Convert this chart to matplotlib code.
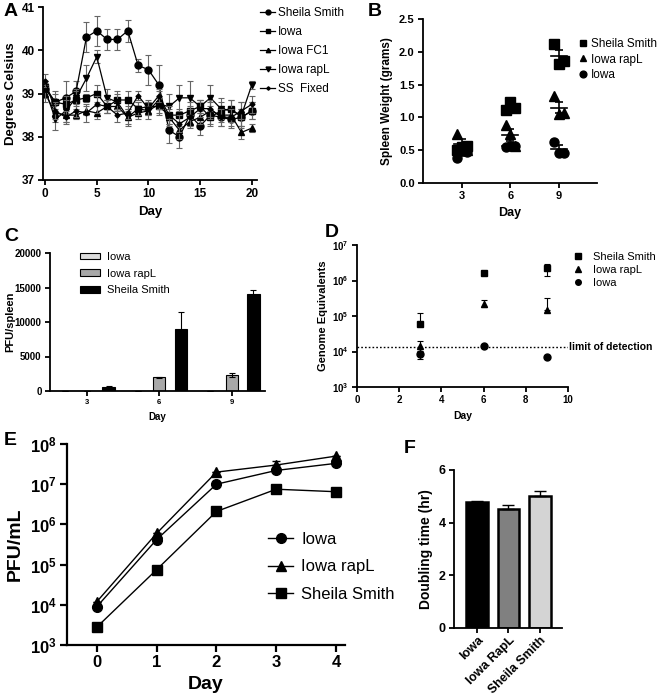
import numpy as np
import matplotlib.pyplot as plt

plt.rcParams['font.family'] = ['Liberation Sans', 'DejaVu Sans']
plt.rcParams['font.weight'] = 'bold'
plt.rcParams['axes.labelweight'] = 'bold'
plt.rcParams['axes.linewidth'] = 1.3
plt.rcParams['mathtext.fontset'] = 'custom'
plt.rcParams['mathtext.rm'] = 'Liberation Sans'
plt.rcParams['mathtext.bf'] = 'Liberation Sans:bold'
plt.rcParams['mathtext.default'] = 'bf'

W, H = 669, 696

# ---- panel A: body temperature ----
days_a = np.arange(21)
temp_names = ['Sheila Smith', 'Iowa', 'Iowa FC1', 'Iowa rapL', 'SS  Fixed']
temp_ss = [39.1, 38.8, 38.9, 39.05, 40.3, 40.45, 40.25, 40.25, 40.45, 39.65, 39.55,
           39.2, 38.15, 38.0, 38.5, 38.25, 38.5, 38.45, 38.4, 38.45, 38.6]
temp_iowa = [39.15, 38.8, 38.75, 38.85, 38.9, 39.0, 38.7, 38.85, 38.85, 38.65, 38.7,
             38.7, 38.5, 38.5, 38.6, 38.7, 38.45, 38.6, 38.65, 38.45, 38.6]
temp_fc1 = [39.0, 38.55, 38.5, 38.5, 38.6, 38.55, 38.7, 38.7, 38.45, 38.55, 38.6,
            38.85, 38.45, 38.15, 38.35, 38.45, 38.6, 38.5, 38.5, 38.1, 38.2]
temp_rapl = [39.1, 38.4, 38.6, 38.9, 39.35, 39.85, 38.9, 38.8, 38.45, 38.65, 38.6,
             38.75, 38.7, 38.9, 38.9, 38.7, 38.9, 38.65, 38.6, 38.5, 39.2]
temp_fixed = [39.3, 38.6, 38.45, 38.6, 38.55, 38.75, 38.7, 38.5, 38.55, 38.95, 38.65,
              38.95, 38.5, 38.3, 38.45, 38.65, 38.65, 38.45, 38.45, 38.6, 38.75]
err_ss = [0.15, 0.25, 0.4, 0.25, 0.35, 0.35, 0.25, 0.25, 0.25, 0.15, 0.35,
          0.45, 0.3, 0.25, 0.2, 0.2, 0.2, 0.2, 0.2, 0.2, 0.2]
err_iowa = [0.15, 0.2, 0.2, 0.2, 0.1, 0.2, 0.15, 0.2, 0.2, 0.15, 0.15,
            0.2, 0.2, 0.15, 0.2, 0.15, 0.2, 0.2, 0.2, 0.2, 0.2]
err_fc1 = [0.2, 0.2, 0.15, 0.1, 0.1, 0.15, 0.15, 0.1, 0.15, 0.15, 0.1,
           0.2, 0.2, 0.2, 0.15, 0.15, 0.2, 0.15, 0.15, 0.15, 0.1]
err_rapl = [0.2, 0.25, 0.25, 0.2, 0.3, 0.15, 0.2, 0.2, 0.2, 0.15, 0.2,
            0.2, 0.3, 0.3, 0.4, 0.15, 0.3, 0.25, 0.25, 0.3, 0.1]
err_fixed = [0.15, 0.2, 0.15, 0.15, 0.2, 0.2, 0.15, 0.15, 0.15, 0.1, 0.15,
             0.15, 0.2, 0.2, 0.2, 0.2, 0.2, 0.2, 0.2, 0.2, 0.2]

# ---- panel B: spleen weight ----
b_days = [3, 6, 9]
b_names = ['Sheila Smith', 'Iowa rapL', 'Iowa']
spleen_ss = [[0.50, 0.55, 0.57], [1.12, 1.24, 1.15], [2.12, 1.82, 1.86]]
spleen_rapl = [[0.75, 0.55, 0.50], [0.88, 0.74, 0.57], [1.33, 1.05, 1.07]]
spleen_iowa = [[0.38, 0.52, 0.48], [0.55, 0.56, 0.56], [0.63, 0.45, 0.46]]

# ---- panel C: PFU/spleen ----
c_days = ['3', '6', '9']
c_names = ['Iowa', 'Iowa rapL', 'Sheila Smith']
pfu_iowa = [0, 0, 0]
pfu_rapl = [0, 2000, 2350]
pfu_ss = [620, 9000, 14100]
pfu_iowa_err = [0, 0, 0]
pfu_rapl_err = [0, 100, 300]
pfu_ss_err = [60, 2500, 600]

# ---- panel D: genome equivalents ----
d_days = [3, 6, 9]
ge_ss = [6.0e4, 1.6e6, 2.2e6]
ge_ss_lo = [0, 0, 0.9e6]
ge_ss_hi = [6.0e4, 0, 0.8e6]
ge_rapl = [1.4e4, 2.2e5, 1.5e5]
ge_rapl_lo = [0.4e4, 0.4e5, 0]
ge_rapl_hi = [0.6e4, 0.6e5, 1.7e5]
ge_iowa = [8.5e3, 1.4e4, 7.0e3]
ge_iowa_lo = [2.5e3, 0, 0]
ge_iowa_hi = [2.0e3, 0, 0]
limit_detection = 1.3e4

# ---- panel E: growth curve ----
e_days = [0, 1, 2, 3, 4]
e_names = ['Iowa', 'Iowa rapL', 'Sheila Smith']
grow_iowa = [9.0e3, 4.2e5, 1.0e7, 2.2e7, 3.3e7]
grow_rapl = [1.2e4, 6.0e5, 2.0e7, 3.0e7, 5.0e7]
grow_ss = [2.8e3, 7.5e4, 2.1e6, 7.5e6, 6.5e6]
grow_rapl_err = [0, 0, 0, 0.8e7, 0]

# ---- panel F: doubling time ----
f_names = ['Iowa', 'Iowa RapL', 'Sheila Smith']
doubling = [4.78, 4.53, 5.0]
doubling_err = [0.05, 0.15, 0.22]


fig = plt.figure(figsize=(W / 100, H / 100), dpi=100)


def add_ax(left, top, right, bottom):
    return fig.add_axes([left / W, 1 - bottom / H, (right - left) / W, (bottom - top) / H])


def clean(ax, size):
    ax.spines['top'].set_visible(False)
    ax.spines['right'].set_visible(False)
    ax.tick_params(labelsize=size, width=1.3, length=3.5, pad=2.5)


def ylabel_at(ax, x_px, left, right):
    # right edge of the rotated y label at a pixel column
    ax.yaxis.set_label_coords((x_px - left) / (right - left), 0.5)


def fig_legend(ax, handles, labels, x, y, size, spacing, **kw):
    return ax.legend(handles, labels, loc='upper left', bbox_to_anchor=(x / W, 1 - y / H),
                     bbox_transform=fig.transFigure, frameon=False,
                     prop={'size': size, 'weight': 'normal'}, labelspacing=spacing,
                     borderpad=0, borderaxespad=0, **kw)


# panel A
ax = add_ax(43, 7, 257, 180)
clean(ax, 8.5)
series = [(temp_ss, err_ss, 'o', 5), (temp_iowa, err_iowa, 's', 5),
          (temp_fc1, err_fc1, '^', 4.5), (temp_rapl, err_rapl, 'v', 5),
          (temp_fixed, err_fixed, 'D', 2.5)]
handles = []
for vals, err, m, ms in series:
    ax.errorbar(days_a, vals, yerr=err, fmt='none', ecolor='#666666', elinewidth=0.8,
                capsize=2.5, capthick=0.8)
    h, = ax.plot(days_a, vals, color='black', marker=m, ms=ms, lw=0.9)
    handles.append(h)
ax.set_xlim(-0.2, 20.5)
ax.set_ylim(37, 41)
ax.set_xticks([0, 5, 10, 15, 20])
ax.set_yticks([37, 38, 39, 40, 41])
ax.set_xlabel('Day', fontsize=9.5)
ax.set_ylabel('Degrees Celsius', fontsize=9.5)
ylabel_at(ax, 17, 43, 257)
fig_legend(ax, handles, temp_names, 260, 7, 8.5, 0.6, handlelength=1.3, handletextpad=0.2,
           markerscale=0.7)

# panel B
ax = add_ax(423, 19, 597, 183)
clean(ax, 8)
jitter = [-0.3, 0.0, 0.3]
handles = []
for groups, m in [(spleen_ss, 's'), (spleen_rapl, '^'), (spleen_iowa, 'o')]:
    for d, pts in zip(b_days, groups):
        xs = [d + j for j in jitter]
        h, = ax.plot(xs, pts, ls='none', marker=m, color='black', ms=6.5)
        mean = np.mean(pts)
        sem = np.std(pts, ddof=1) / np.sqrt(len(pts))
        ax.plot([d - 0.5, d + 0.5], [mean, mean], color='black', lw=1.2)
        ax.errorbar([d], [mean], yerr=[sem], fmt='none', ecolor='black', elinewidth=1.2,
                    capsize=3, capthick=1.2)
    handles.append(h)
ax.set_xlim(0.6, 11.35)
ax.set_ylim(0, 2.5)
ax.set_xticks(b_days)
ax.set_yticks([0, 0.5, 1.0, 1.5, 2.0, 2.5])
ax.set_xlabel('Day', fontsize=9)
ax.set_ylabel('Spleen Weight (grams)', fontsize=8.5)
fig_legend(ax, handles, b_names, 578, 38, 8.5, 0.3, handlelength=0.8, handletextpad=0.3,
           markerscale=0.75)

# panel C
ax = add_ax(50, 253, 265, 391)
clean(ax, 7)
xc = np.arange(len(c_days))
bw = 0.17
bar_sets = [(pfu_iowa, pfu_iowa_err, '#dcdcdc', -0.3), (pfu_rapl, pfu_rapl_err, '#a8a8a8', 0.0),
            (pfu_ss, pfu_ss_err, 'black', 0.3)]
handles = []
for vals, err, col, off in bar_sets:
    b = ax.bar(xc + off, vals, bw, yerr=err, color=col, edgecolor='black', linewidth=0.8,
               error_kw=dict(elinewidth=0.8, capsize=2.5, capthick=0.8))
    handles.append(b)
ax.set_xlim(-0.51, 2.46)
ax.set_ylim(0, 20000)
ax.set_xticks(xc)
ax.set_xticklabels(c_days)
ax.set_yticks([0, 5000, 10000, 15000, 20000])
ax.tick_params(axis='x', labelsize=5.5)
ax.set_xlabel('Day', fontsize=7)
ax.set_ylabel('PFU/spleen', fontsize=8)
ylabel_at(ax, 15, 50, 265)
fig_legend(ax, handles, c_names, 80, 252, 8, 0.6, handlelength=1.8, handleheight=0.55,
           handletextpad=0.6)

# panel D
ax = add_ax(357, 245, 568, 387)
clean(ax, 7)
ax.set_yscale('log')
handles = []
for vals, lo, hi, m in [(ge_ss, ge_ss_lo, ge_ss_hi, 's'), (ge_rapl, ge_rapl_lo, ge_rapl_hi, '^'),
                        (ge_iowa, ge_iowa_lo, ge_iowa_hi, 'o')]:
    ax.errorbar(d_days, vals, yerr=[lo, hi], fmt='none', ecolor='black', elinewidth=0.8,
                capsize=2.5, capthick=0.8)
    h, = ax.plot(d_days, vals, ls='none', marker=m, color='black', ms=5)
    handles.append(h)
ax.axhline(limit_detection, color='black', ls=(0, (1.2, 1.5)), lw=1)
ax.text(10.05, limit_detection, 'limit of detection', fontsize=7.5, va='center', ha='left',
        clip_on=False)
ax.set_xlim(0, 10)
ax.set_ylim(1e3, 1e7)
ax.set_xticks([0, 2, 4, 6, 8, 10])
ax.set_yticks([1e3, 1e4, 1e5, 1e6, 1e7])
ax.minorticks_off()
ax.set_xlabel('Day', fontsize=7.5)
ax.set_ylabel('Genome Equivalents', fontsize=8)
ylabel_at(ax, 328, 357, 568)
fig_legend(ax, handles, b_names, 574, 252, 8, 0.25, handlelength=0.8, handletextpad=0.9,
           markerscale=0.8)

# panel E
ax = add_ax(67, 444, 345, 645)
clean(ax, 12)
ax.set_yscale('log')
handles = []
for vals, m in [(grow_iowa, 'o'), (grow_rapl, '^'), (grow_ss, 's')]:
    h, = ax.plot(e_days, vals, color='black', marker=m, ms=7, lw=1)
    handles.append(h)
ax.errorbar(e_days, grow_rapl, yerr=[[0] * 5, grow_rapl_err], fmt='none', ecolor='black',
            elinewidth=1, capsize=3)
ax.set_xlim(-0.5, 4.15)
ax.set_ylim(1e3, 1e8)
ax.set_xticks(e_days)
ax.set_yticks([1e3, 1e4, 1e5, 1e6, 1e7, 1e8])
ax.minorticks_off()
ax.tick_params(width=1.6, length=5)
for s in ax.spines.values():
    s.set_linewidth(1.6)
ax.set_xlabel('Day', fontsize=14)
ax.set_ylabel('PFU/mL', fontsize=14)
ylabel_at(ax, 24, 67, 345)
fig_legend(ax, handles, e_names, 268, 532, 12, 0.75, handlelength=1.5, handletextpad=0.5)

# panel F
ax = add_ax(454, 470, 562, 628)
clean(ax, 9)
xf = np.arange(len(f_names))
ax.bar(xf, doubling, 0.67, yerr=[[0] * 3, doubling_err], color=['black', '#808080', '#d4d4d4'],
       edgecolor='black', linewidth=1.8, error_kw=dict(elinewidth=1, capsize=4, capthick=1))
ax.set_xlim(-0.73, 2.7)
ax.set_ylim(0, 6)
ax.set_yticks([0, 2, 4, 6])
ax.set_xticks(xf)
ax.set_xticklabels(f_names, rotation=45, ha='right', rotation_mode='anchor')
ax.tick_params(axis='x', pad=1)
ax.set_ylabel('Doubling time (hr)', fontsize=10)

# panel letters
for lab, x, y in [('A', 4, 3), ('B', 368, 3), ('C', 4, 228), ('D', 325, 224),
                  ('E', 4, 432), ('F', 404, 440)]:
    fig.text(x / W, 1 - y / H, lab, fontsize=14, fontweight='bold', va='top', ha='left')

fig.savefig('out.png', dpi=100)
